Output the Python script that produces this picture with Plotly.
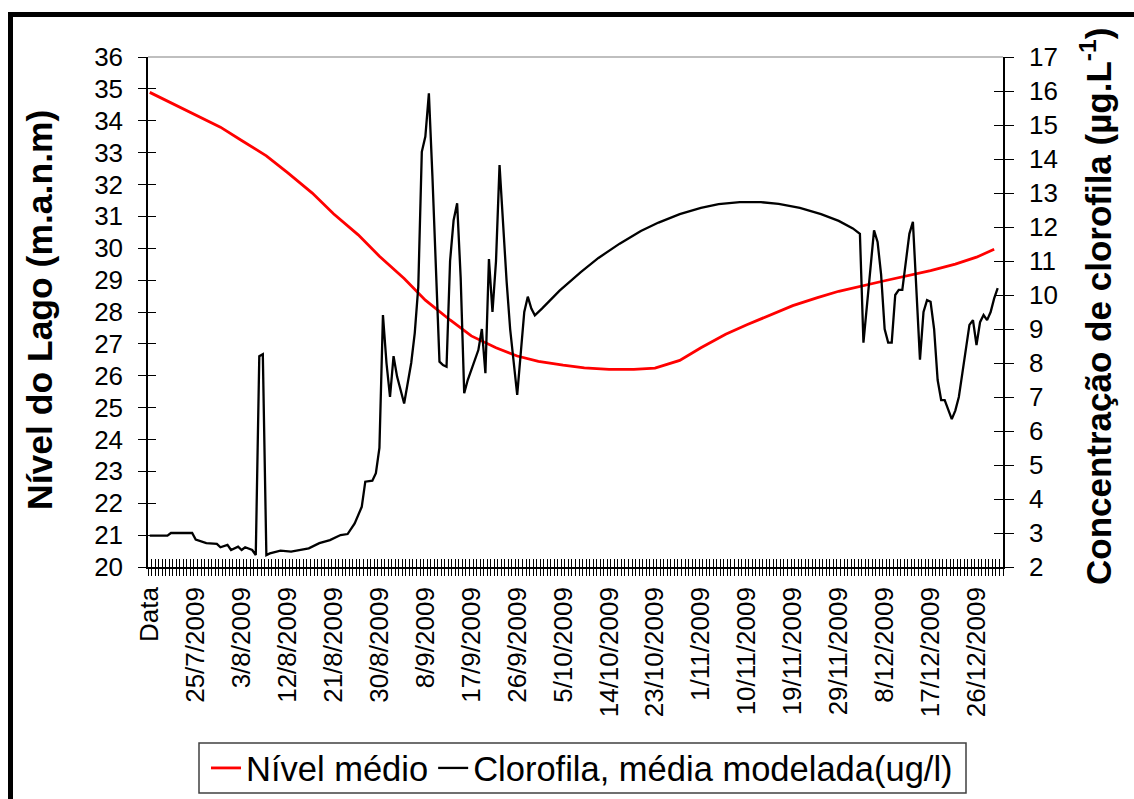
import plotly.graph_objects as go

# ---------------- data ----------------
x_tick_index = [0, 13, 26, 39, 52, 65, 78, 91, 104, 117, 130, 143, 156, 169, 182, 195, 208, 221, 234]
x_tick_labels = ["Data", "25/7/2009", "3/8/2009", "12/8/2009", "21/8/2009", "30/8/2009",
                 "8/9/2009", "17/9/2009", "26/9/2009", "5/10/2009", "14/10/2009",
                 "23/10/2009", "1/11/2009", "10/11/2009", "19/11/2009", "29/11/2009",
                 "8/12/2009", "17/12/2009", "26/12/2009"]
n_categories = 242

nivel_idx = [0, 6, 13, 20, 26, 33, 39, 46, 52, 59, 65, 72, 78, 85, 91, 98, 104, 110, 117,
             123, 130, 137, 143, 150, 156, 163, 169, 176, 182, 189, 195, 208, 221, 228, 234, 239]
nivel_val = [34.89, 34.56, 34.2, 33.8, 33.38, 32.9, 32.37, 31.73, 31.08, 30.42, 29.75,
             29.05, 28.37, 27.75, 27.25, 26.88, 26.62, 26.45, 26.33, 26.25, 26.2, 26.2, 26.24,
             26.48, 26.88, 27.3, 27.6, 27.92, 28.2, 28.45, 28.65, 28.98, 29.3, 29.5, 29.72, 29.97]

cloro_idx = [0, 5, 6, 12, 13, 16, 19, 20, 22, 23, 25, 26, 27, 29, 30, 31, 32, 33, 34, 37,
             40, 43, 45, 48, 51, 54, 56, 58, 60, 61, 63, 64, 65, 66, 67, 68, 69, 70, 72, 74,
             75, 76, 77, 78, 79, 80, 81, 82, 83, 84, 85, 86, 87, 88, 89, 90, 93, 94, 95, 96,
             97, 98, 99, 100, 101, 102, 104, 106, 107, 108, 109, 111, 116, 122, 127, 133, 139,
             144, 150, 156, 161, 167, 173, 178, 184, 190, 195, 199, 201, 202, 203, 204, 205,
             206, 207, 208, 209, 210, 211, 212, 213, 214, 215, 216, 217, 218, 219, 220, 221,
             222, 223, 224, 225, 226, 227, 228, 229, 230, 231, 232, 233, 234, 235, 236, 237,
             238, 239, 240]
cloro_val = [2.92, 2.92, 3.0, 3.0, 2.81, 2.7, 2.68, 2.58, 2.65, 2.5, 2.6, 2.5, 2.58, 2.5, 2.35,
             8.2, 8.26, 2.35, 2.4, 2.48, 2.45, 2.5, 2.55, 2.7, 2.79, 2.94, 2.97, 3.28, 3.77,
             4.51, 4.54, 4.76, 5.5, 9.41, 8.0, 7.0, 8.2, 7.6, 6.81, 8.0, 8.88, 10.24, 14.21,
             14.66, 15.93, 13.5, 10.5, 8.04, 7.94, 7.89, 11.0, 12.2, 12.7, 10.5, 7.11, 7.5,
             8.38, 9.0, 7.7, 11.06, 9.5, 11.0, 13.82, 12.0, 10.4, 9.0, 7.06, 9.5, 9.95, 9.6,
             9.4, 9.6, 10.13, 10.67, 11.09, 11.51, 11.88, 12.13, 12.38, 12.56, 12.67, 12.73,
             12.73, 12.68, 12.56, 12.38, 12.18, 11.96, 11.8, 8.6, 9.6, 10.8, 11.9, 11.56, 10.6,
             9.0, 8.6, 8.6, 10.0, 10.15, 10.15, 11.0, 11.8, 12.15, 10.0, 8.1, 9.5, 9.85, 9.8,
             9.0, 7.5, 6.91, 6.91, 6.6, 6.35, 6.6, 7.0, 7.7, 8.4, 9.12, 9.26, 8.53, 9.2, 9.41,
             9.26, 9.5, 9.9, 10.2]

# ---------------- layout constants ----------------
W, H = 1134, 799
ML, MR, MT, MB = 148, 131, 57, 232
PW, PH = W - ML - MR, H - MT - MB
FONT = "Liberation Sans, Arial, sans-serif"


def px_x(p):
    return (p - ML) / PW


def px_y(p):
    return (H - MB - p) / PH


xr = [-0.5, n_categories - 0.5]
boundaries = [i - 0.5 for i in range(n_categories + 1)]

fig = go.Figure()
fig.add_trace(go.Scatter(x=nivel_idx, y=nivel_val, mode="lines", name="Nível médio",
                         line=dict(color="#ff0000", width=2.8), xaxis="x", yaxis="y"))
fig.add_trace(go.Scatter(x=cloro_idx, y=cloro_val, mode="lines",
                         name="Clorofila, média modelada(ug/l)",
                         line=dict(color="#000000", width=2.3), xaxis="x", yaxis="y2"))
# helper empty traces so the tick-only overlay axes are drawn
for xa, ya in [("x2", "y"), ("x3", "y"), ("x", "y3"), ("x", "y4")]:
    fig.add_trace(go.Scatter(x=[], y=[], xaxis=xa, yaxis=ya, showlegend=False,
                             hoverinfo="skip"))

axis_common = dict(showgrid=False, zeroline=False)
fig.update_layout(
    width=W, height=H,
    margin=dict(l=ML, r=MR, t=MT, b=MB, autoexpand=False),
    paper_bgcolor="white", plot_bgcolor="white",
    font=dict(family=FONT, color="black", size=26),
    showlegend=True,
    xaxis=dict(range=xr, tickmode="array", tickvals=x_tick_index, ticktext=x_tick_labels,
               tickangle=-90, ticks="outside", ticklen=8, tickcolor="rgba(0,0,0,0)",
               showline=True, linecolor="black", linewidth=1.5,
               tickfont=dict(size=26, family=FONT), anchor="y", **axis_common),
    xaxis2=dict(range=xr, overlaying="x", anchor="y", tickmode="array", tickvals=boundaries,
                ticks="outside", ticklen=8, tickwidth=1.2, tickcolor="black",
                showticklabels=False, showline=False, **axis_common),
    xaxis3=dict(range=xr, overlaying="x", anchor="y", tickmode="array", tickvals=boundaries,
                ticks="inside", ticklen=8, tickwidth=1.2, tickcolor="black",
                showticklabels=False, showline=False, **axis_common),
    yaxis=dict(range=[20, 36], tickmode="linear", tick0=20, dtick=1, ticks="outside",
               ticklen=8, tickwidth=1.2, tickcolor="black", showline=True, linecolor="black",
               linewidth=1.5, tickfont=dict(size=26, family=FONT), ticklabelstandoff=10,
               anchor="x", **axis_common),
    yaxis2=dict(range=[2, 17], tickmode="linear", tick0=2, dtick=1, ticks="outside",
                ticklen=9, tickwidth=1.2, tickcolor="black", showline=True, linecolor="black",
                linewidth=1.5, tickfont=dict(size=26, family=FONT), ticklabelstandoff=10,
                overlaying="y", side="right", anchor="x", **axis_common),
    yaxis3=dict(range=[20, 36], tickmode="linear", tick0=20, dtick=1, ticks="inside",
                ticklen=8, tickwidth=1.2, tickcolor="black", showticklabels=False,
                showline=False, overlaying="y", side="left", anchor="x", **axis_common),
    yaxis4=dict(range=[2, 17], tickmode="linear", tick0=2, dtick=1, ticks="inside",
                ticklen=9, tickwidth=1.2, tickcolor="black", showticklabels=False,
                showline=False, overlaying="y", side="right", anchor="x", **axis_common),
    legend=dict(orientation="h", x=px_x(206), y=px_y(768), xanchor="left", yanchor="middle",
                bgcolor="rgba(0,0,0,0)", borderwidth=0,
                font=dict(size=34.5, family=FONT), itemwidth=30),
)

# axis titles as rotated annotations
fig.add_annotation(text="<b>Nível do Lago (m.a.n.m)</b>", xref="paper", yref="paper",
                   x=px_x(40), y=px_y(310), textangle=-90, showarrow=False,
                   xanchor="center", yanchor="middle", font=dict(size=35.5, family=FONT))
fig.add_annotation(text="<b>Concentração de clorofila (µg.L<sup>-1</sup>)</b>", xref="paper",
                   yref="paper", x=px_x(1096), y=px_y(307), textangle=-90, showarrow=False,
                   xanchor="center", yanchor="middle", font=dict(size=35, family=FONT))

# legend frame
fig.add_shape(type="rect", xref="paper", yref="paper", x0=px_x(199), x1=px_x(966),
              y0=px_y(793), y1=px_y(743), line=dict(color="#404040", width=1.5),
              fillcolor="white", layer="below")
# plot-area top border (grey) and outer frame (left + top)
fig.add_shape(type="line", xref="x domain", yref="y domain", x0=0, x1=1, y0=1, y1=1,
              line=dict(color="#808080", width=1.2))
fig.add_shape(type="line", xref="paper", yref="paper", x0=px_x(10.5), x1=px_x(10.5),
              y0=px_y(12), y1=px_y(820), line=dict(color="black", width=5))
fig.add_shape(type="line", xref="paper", yref="paper", x0=px_x(8), x1=px_x(1140),
              y0=px_y(14.5), y1=px_y(14.5), line=dict(color="black", width=5))

fig.write_html("out.html")
